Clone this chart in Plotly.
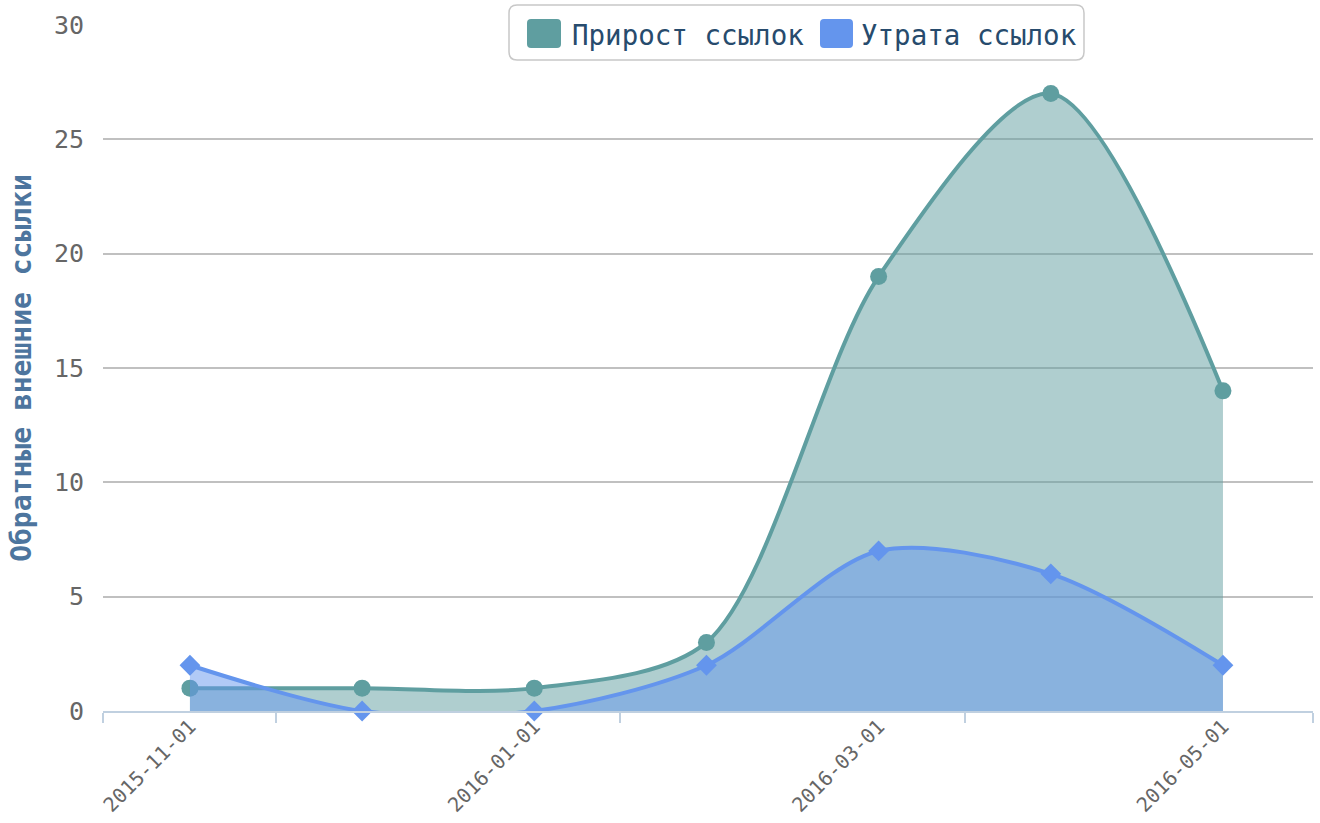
import plotly.graph_objects as go

# ---- data ----
dates = ["2015-11-01", "2015-12-01", "2016-01-01", "2016-02-01",
         "2016-03-01", "2016-04-01", "2016-05-01"]
gain = [1, 1, 1, 3, 19, 27, 14]
loss = [2, 0, 0, 2, 7, 6, 2]
series_names = ["Прирост ссылок", "Утрата ссылок"]
y_title = "Обратные внешние ссылки"
tick_idx = [0, 2, 4, 6]
tick_labels = [dates[i] for i in tick_idx]
y_ticks = [0, 5, 10, 15, 20, 25, 30]

# ---- style ----
FONT = "DejaVu Sans Mono"
GREEN = "#5F9EA0"
BLUE = "#6495ED"
W, H = 1320, 823
ML, MR, MT, MB = 103, 7, 25, 112
PW, PH = W - ML - MR, H - MT - MB

def px2x(px):
    return (px - ML) / PW

def py2y(py):
    return (H - MB - py) / PH

def rrect(x0, y0, x1, y1, r):
    # rounded rectangle in pixel coords -> path in paper coords
    def P(x, y):
        return f"{px2x(x):.5f},{py2y(y):.5f}"
    pts = [
        f"M{P(x0 + r, y0)}", f"L{P(x1 - r, y0)}", f"Q{P(x1, y0)} {P(x1, y0 + r)}",
        f"L{P(x1, y1 - r)}", f"Q{P(x1, y1)} {P(x1 - r, y1)}",
        f"L{P(x0 + r, y1)}", f"Q{P(x0, y1)} {P(x0, y1 - r)}",
        f"L{P(x0, y0 + r)}", f"Q{P(x0, y0)} {P(x0 + r, y0)}Z",
    ]
    return " ".join(pts)

x = list(range(len(dates)))

fig = go.Figure()
fig.add_trace(go.Scatter(
    x=x, y=gain, name=series_names[0], mode="lines+markers",
    line=dict(color=GREEN, width=4, shape="spline", smoothing=0.85),
    marker=dict(symbol="circle", size=17, color=GREEN),
    fill="tozeroy", fillcolor="rgba(95,158,160,0.5)",
    cliponaxis=False, showlegend=False,
    customdata=dates, hovertemplate="%{customdata}: %{y}<extra></extra>",
))
fig.add_trace(go.Scatter(
    x=x, y=loss, name=series_names[1], mode="lines+markers",
    line=dict(color=BLUE, width=4, shape="spline", smoothing=0.85),
    marker=dict(symbol="diamond", size=16, color=BLUE),
    fill="tozeroy", fillcolor="rgba(100,149,237,0.5)",
    cliponaxis=False, showlegend=False,
    customdata=dates, hovertemplate="%{customdata}: %{y}<extra></extra>",
))

# manual legend (Highcharts style)
shapes = [
    dict(type="path", xref="paper", yref="paper", path=rrect(509, 5, 1084, 60, 8),
         line=dict(color="#c8c8c8", width=1.5), fillcolor="white", layer="above"),
    dict(type="path", xref="paper", yref="paper", path=rrect(527, 19, 561, 48, 4),
         line=dict(width=0), fillcolor=GREEN, layer="above"),
    dict(type="path", xref="paper", yref="paper", path=rrect(820, 19, 853, 48, 4),
         line=dict(width=0), fillcolor=BLUE, layer="above"),
]
annotations = [
    dict(xref="paper", yref="paper", x=px2x(570), y=py2y(35), text=series_names[0],
         showarrow=False, xanchor="left", yanchor="middle",
         font=dict(family=FONT, size=27.5, color="#274b6d")),
    dict(xref="paper", yref="paper", x=px2x(859), y=py2y(35), text=series_names[1],
         showarrow=False, xanchor="left", yanchor="middle",
         font=dict(family=FONT, size=27.5, color="#274b6d")),
]

fig.update_layout(
    width=W, height=H,
    margin=dict(l=ML, r=MR, t=MT, b=MB, pad=0),
    paper_bgcolor="white", plot_bgcolor="white",
    font=dict(family=FONT, color="#666666"),
    showlegend=False,
    shapes=shapes, annotations=annotations,
    xaxis=dict(
        automargin=False,
        range=[-0.505, 6.523], tickmode="array", tickvals=tick_idx, ticktext=tick_labels,
        tickangle=-45, tickfont=dict(family=FONT, size=20, color="#666666"),
        ticks="", ticklabelstandoff=-6, showgrid=False, zeroline=False,
        showline=True, linecolor="#C0D0E0", linewidth=2,
        minor=dict(tickmode="array", tickvals=[-0.505, 0.5, 2.5, 4.5, 6.523],
                   ticks="outside", ticklen=10, tickcolor="#C0D0E0", tickwidth=2,
                   showgrid=False),
    ),
    yaxis=dict(
        automargin=False,
        range=[0, 30], tickmode="array", tickvals=y_ticks,
        tickfont=dict(family=FONT, size=25, color="#666666"),
        ticks="", ticklabelstandoff=18,
        showgrid=True, gridcolor="#C0C0C0", gridwidth=1.5,
        zeroline=False, showline=False,
        title=dict(text=y_title, standoff=14,
                   font=dict(family=FONT, size=28, color="#4d759e", weight="bold")),
    ),
)

fig.write_html("out.html", config={"displayModeBar": False},
               post_script="document.body.style.margin='0';")
